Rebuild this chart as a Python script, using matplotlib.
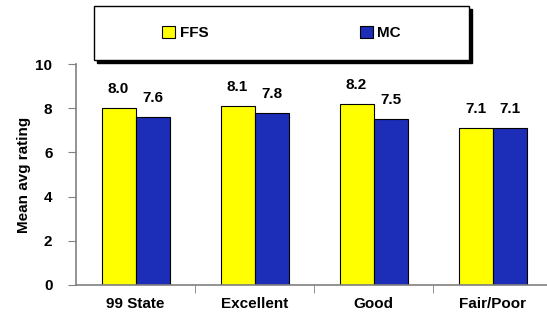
import matplotlib
matplotlib.use("Agg")
import matplotlib.pyplot as plt
from matplotlib.patches import Rectangle
import numpy as np

categories = ["99 State", "Excellent", "Good", "Fair/Poor"]
ffs = [8.0, 8.1, 8.2, 7.1]
mc = [7.6, 7.8, 7.5, 7.1]
series_names = ["FFS", "MC"]
yticks = [0, 2, 4, 6, 8, 10]

plt.rcParams["font.family"] = ["Liberation Sans", "DejaVu Sans"]
plt.rcParams["font.weight"] = "bold"

W, H = 547, 324
fig = plt.figure(figsize=(W / 100, H / 100), dpi=100)
ax = fig.add_axes([76 / W, 1 - 285 / H, (547 - 76) / W, (285 - 64) / H])

yellow = "#FFFF00"
blue = "#1C2DB8"
x = np.arange(len(categories))
bw = 34 / 119
ax.bar(x - bw / 2, ffs, bw, color=yellow, edgecolor="black", linewidth=0.8, label=series_names[0])
ax.bar(x + bw / 2, mc, bw, color=blue, edgecolor="black", linewidth=0.8, label=series_names[1])

for xi, v in zip(x - bw / 2, ffs):
    ax.text(xi, v + 0.68, f"{v:.1f}", ha="center", va="baseline", fontsize=11, fontweight="bold")
for xi, v in zip(x + bw / 2, mc):
    ax.text(xi, v + 0.68, f"{v:.1f}", ha="center", va="baseline", fontsize=11, fontweight="bold")

ax.set_xlim(-0.5, -0.5 + 471 / 119)
ax.set_ylim(0, 10)
ax.set_yticks(yticks)
ax.set_yticklabels([str(t) for t in yticks], fontsize=11, fontweight="bold")
ax.set_xticks(x)
ax.set_xticklabels(categories, fontsize=11, fontweight="bold")
ax.tick_params(axis="x", length=0, pad=9)
ax.set_xticks(x[:-1] + 0.5, minor=True)
ax.tick_params(axis="x", which="minor", length=6, color="#808080", direction="out")
ax.tick_params(axis="y", length=6, color="#808080", direction="out", pad=11)
for s in ["top", "right"]:
    ax.spines[s].set_visible(False)
for s in ["left", "bottom"]:
    ax.spines[s].set_color("#808080")
    ax.spines[s].set_linewidth(1.2)
ax.set_ylabel("Mean avg rating", fontsize=11, fontweight="bold", labelpad=3)

# legend box with drop shadow
bx0, by0, bx1, by1 = 94, 6, 469, 60
fig.patches.append(Rectangle(((bx0 + 3) / W, 1 - (by1 + 3) / H), (bx1 - bx0) / W, (by1 - by0) / H,
                             transform=fig.transFigure, facecolor="black", edgecolor="black", zorder=1))
fig.patches.append(Rectangle((bx0 / W, 1 - by1 / H), (bx1 - bx0) / W, (by1 - by0) / H,
                             transform=fig.transFigure, facecolor="white", edgecolor="black",
                             linewidth=1, zorder=2))
handles, labels = ax.get_legend_handles_labels()
leg = fig.legend(handles, labels, loc="center", bbox_to_anchor=((bx0 + bx1) / 2 / W, 1 - (by0 + by1) / 2 / H),
                 ncol=2, frameon=False, handlelength=0.85, handleheight=0.85,
                 handletextpad=0.3, columnspacing=9.9, prop={"weight": "bold", "size": 11})
leg.set_zorder(3)

fig.savefig("out.png", dpi=100)
